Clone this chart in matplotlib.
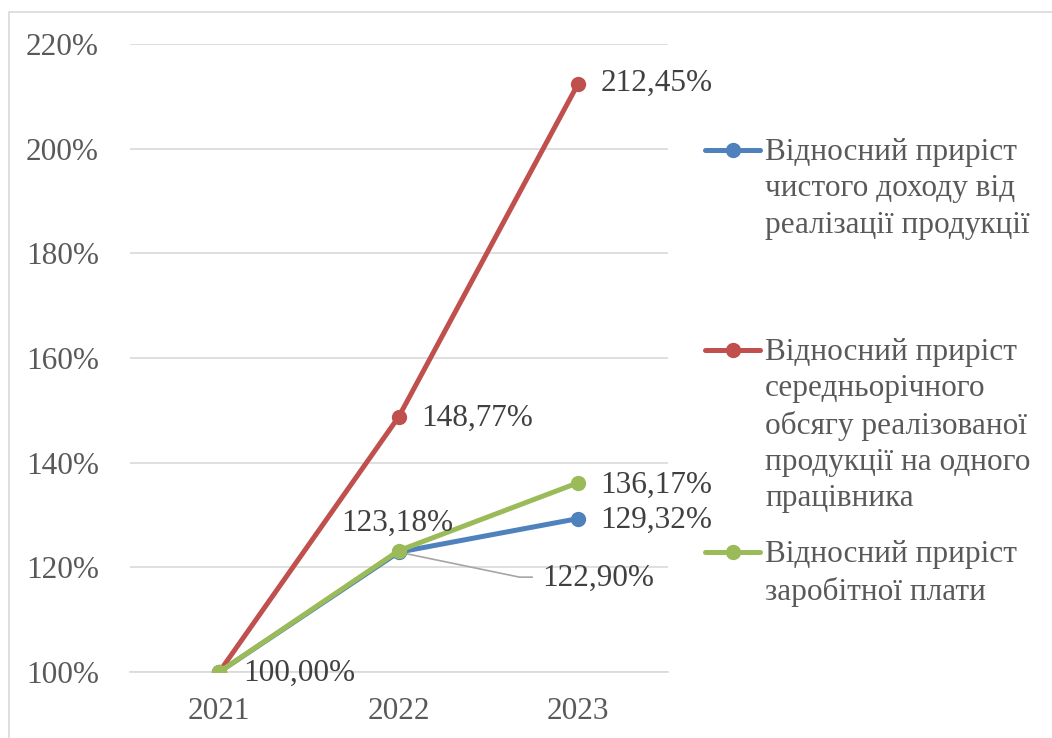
import matplotlib
matplotlib.use("Agg")
import matplotlib.pyplot as plt
import matplotlib.transforms as mtransforms
from matplotlib.lines import Line2D
from matplotlib.patches import Rectangle

years = ["2021", "2022", "2023"]
income = [100.00, 122.90, 129.32]
output_per_worker = [100.00, 148.77, 212.45]
wages = [100.00, 123.18, 136.17]

names = [
    "Відносний приріст\nчистого доходу від\nреалізації продукції",
    "Відносний приріст\nсередньорічного\nобсягу реалізованої\nпродукції на одного\nпрацівника",
    "Відносний приріст\nзаробітної плати",
]
colors = ["#4F81BD", "#C0504D", "#9BBB59"]
yticks = [100, 120, 140, 160, 180, 200, 220]

FS = 22.5
plt.rcParams["font.family"] = ["Liberation Serif", "DejaVu Serif"]

fig = plt.figure(figsize=(10.52, 7.38), dpi=100)
ax = fig.add_axes([129.5 / 1052, 1 - 672 / 738, (668 - 129.5) / 1052, (672 - 44) / 738])

# chart border (Excel chart area)
fig.patches.append(Rectangle((9 / 1052, -0.1), 1.2, 1 - 12 / 738 + 0.1,
                             transform=fig.transFigure, fill=False,
                             edgecolor="#D9D9D9", linewidth=1.2))

x = list(range(len(years)))
series = [income, output_per_worker, wages]
for vals, col in zip(series, colors):
    ax.plot(x, vals, color=col, linewidth=3.6, marker="o", markersize=10,
            solid_capstyle="round", zorder=3)

ax.set_xlim(-0.5, 2.5)
ax.set_ylim(100, 220)
ax.set_yticks(yticks)
ax.set_yticklabels([f"{v}%" for v in yticks])
ax.set_xticks(x)
ax.set_xticklabels(years)
ax.grid(axis="y", color="#D9D9D9", linewidth=1.2)
ax.set_axisbelow(True)
for s in ["top", "right", "left"]:
    ax.spines[s].set_visible(False)
ax.spines["bottom"].set_color("#D9D9D9")
ax.spines["bottom"].set_linewidth(1.2)
ax.tick_params(axis="both", length=0, labelsize=FS, labelcolor="#595959")
ax.tick_params(axis="y", pad=22)
ax.tick_params(axis="x", pad=18)

lab_kw = dict(textcoords="offset points", fontsize=FS, color="#404040",
              va="center", ha="left", annotation_clip=False, zorder=5)


def fmt(v):
    return f"{v:.2f}".replace(".", ",") + "%"


ax.annotate(fmt(output_per_worker[2]), (2, output_per_worker[2]), xytext=(16, 0), **lab_kw)
ax.annotate(fmt(output_per_worker[1]), (1, output_per_worker[1]), xytext=(16, -1), **lab_kw)
ax.annotate(fmt(wages[2]), (2, wages[2]), xytext=(16, -2), **lab_kw)
ax.annotate(fmt(income[2]), (2, income[2]), xytext=(16, -1), **lab_kw)
ax.annotate(fmt(income[0]), (0, income[0]), xytext=(17, -1), **lab_kw)
ax.annotate(fmt(wages[1]), (1, wages[1]), xytext=(-1, 20),
            **{**lab_kw, "ha": "center"})

# 2022 income label sits away from the point, with a leader line
ax.annotate(fmt(income[1]), (1, income[1]), xytext=(103, -19), **lab_kw)
pt_trans = (mtransforms.Affine2D().scale(1 / 72) + fig.dpi_scale_trans
            + mtransforms.ScaledTranslation(1, income[1], ax.transData))
ax.add_line(Line2D([0, 87, 96], [0, -18, -18], transform=pt_trans,
                   color="#A6A6A6", linewidth=1.2, zorder=2, clip_on=False))

# legend drawn manually so the marker sits on the first text line
legend_tops = [150, 350, 552]
for name, col, ytop in zip(names, colors, legend_tops):
    yf = 1 - ytop / 738
    fig.add_artist(Line2D([705 / 1052, 760 / 1052], [yf, yf], transform=fig.transFigure,
                          color=col, linewidth=3.6, solid_capstyle="round"))
    fig.add_artist(Line2D([732.5 / 1052], [yf], transform=fig.transFigure,
                          color=col, marker="o", markersize=10))
    fig.text(765 / 1052, 1 - (ytop - 12) / 738, name, fontsize=FS, color="#595959",
             va="top", ha="left", linespacing=1.33)

fig.savefig("out.png", dpi=100)
